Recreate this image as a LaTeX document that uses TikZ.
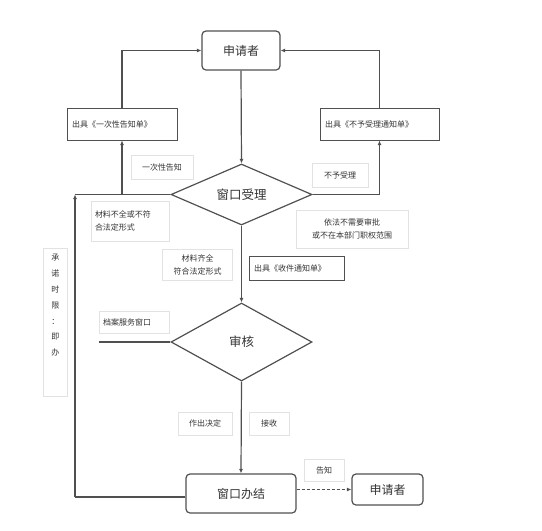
\documentclass[tikz,border=0pt]{standalone}
\usepackage{fontspec}
\setmainfont{Noto Sans CJK SC}
\usetikzlibrary{shapes.geometric,arrows.meta}
\definecolor{linegray}{HTML}{505050}
\definecolor{textgray}{HTML}{333333}
\definecolor{taggray}{HTML}{E2E2E2}

\begin{document}
\begin{tikzpicture}[x=1pt,y=-1pt,
  box/.style={draw=linegray,line width=1.2pt,rounded corners=4pt,inner sep=0pt,
    text=textgray,font=\fontsize{12}{12}\selectfont},
  decision/.style={draw=linegray,line width=1.2pt,diamond,aspect=2.3,inner sep=0pt,
    minimum width=141pt,text=textgray,font=\fontsize{12.5}{12.5}\selectfont},
  notice/.style={draw=linegray,line width=1pt,inner xsep=5pt,inner ysep=0pt,align=left,
    text=textgray,font=\fontsize{8}{10}\selectfont},
  tag/.style={draw=taggray,line width=0.6pt,inner sep=0pt,
    text=textgray,font=\fontsize{8}{13}\selectfont},
  flow/.style={draw=linegray,line width=1.2pt,-{Latex[length=4.5pt,width=4pt]}},
  plain/.style={draw=linegray,line width=1.2pt}]

  \useasboundingbox (0,0) rectangle (542,531);

  \node[box,minimum width=78pt,minimum height=39pt] (apply) at (241,50.5) {申请者};
  \node[notice,text width=100pt,minimum height=32pt] (once) at (122,124) {出具《一次性告知单》\\[6pt]};
  \node[notice,text width=109pt,minimum height=32pt] (refuse) at (379.5,124) {出具《不予受理通知单》\\[6pt]};

  \node[decision,minimum height=61pt] (accept) at (241.5,194.5) {窗口受理};
  \node[tag,minimum width=62pt,minimum height=24pt] (oncetag) at (162,167) {一次性告知};
  \node[tag,minimum width=56pt,minimum height=24pt] (refusetag) at (340,175) {不予受理};
  \node[tag,text width=70pt,inner xsep=4pt,minimum height=40pt,align=left] (lacktag) at (130,221) {材料不全或不符\\合法定形式};
  \node[tag,minimum width=112pt,minimum height=38pt,align=center] (outsidetag) at (352,229) {依法不需要审批\\或不在本部门职权范围};
  \node[tag,minimum width=70pt,minimum height=31pt,align=center] (fulltag) at (197.5,264.5) {材料齐全\\符合法定形式};
  \node[notice,text width=85pt,minimum height=24pt] (receipt) at (296.5,268) {出具《收件通知单》};
  \node[tag,font=\fontsize{8}{15.8}\selectfont] (promise) at (55.5,322.5)
    {\parbox[c][148pt][t]{24pt}{\centering\vspace*{6pt}承\\诺\\时\\限\\：\\即\\办}};

  \node[decision,minimum height=78pt] (review) at (241.5,342) {审核};
  \node[tag,text width=62pt,inner xsep=4pt,minimum height=22pt,align=left] (archivetag) at (134,322) {档案服务窗口};
  \node[tag,minimum width=54pt,minimum height=23pt] (decidetag) at (205,423.5) {作出决定};
  \node[tag,minimum width=40pt,minimum height=23pt] (receivetag) at (269,423.5) {接收};

  \node[box,minimum width=110pt,minimum height=39pt] (finish) at (241,493.5) {窗口办结};
  \node[box,minimum width=71pt,minimum height=31pt] (reply) at (387.5,489.5) {申请者};
  \node[tag,minimum width=40pt,minimum height=22pt] (notifytag) at (324,470) {告知};

  \coordinate (upturn) at (75,194.5);
  \coordinate (downturn) at (75,497);
  \coordinate (archive) at (99,342);

  \draw[flow] (once.north) |- (apply.west);
  \draw[flow] (refuse.north) |- (apply.east);
  \draw[flow] (apply.south) -- (accept.north);
  \draw[flow] (accept.west) -| (once.south);
  \draw[flow] (accept.east) -| (refuse.south);
  \draw[plain] (accept.west) -- (upturn);
  \draw[flow,{Latex[length=4.5pt,width=4pt]}-] (upturn) -- (downturn);
  \draw[plain] (finish.west |- downturn) -- (downturn);
  \draw[flow] (accept.south) -- (review.north);
  \draw[plain] (archive) -- (review.west);
  \draw[flow] (review.south) -- (finish.north);
  \draw[flow,line width=1.4pt,dash pattern=on 3pt off 2pt] (finish.east |- reply.west) -- (reply.west);
\end{tikzpicture}
\end{document}
